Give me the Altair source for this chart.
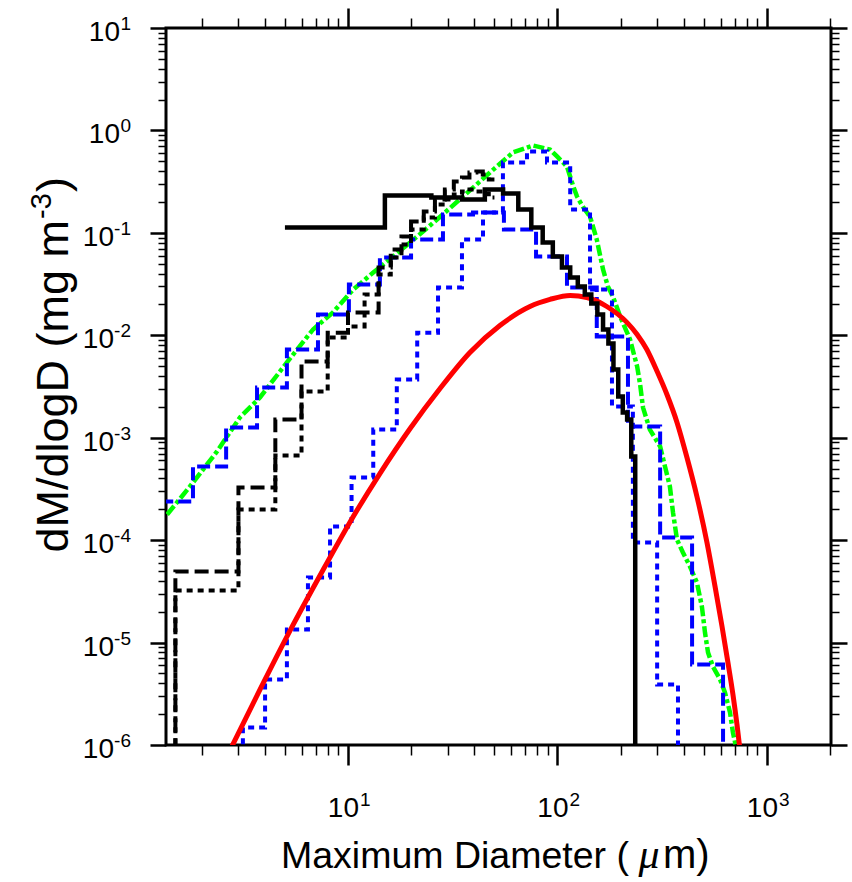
import altair as alt
import pandas as pd

# ---------------- data ----------------
# black solid: 10 um bins
solid_edges = [5, 15, 25, 35, 45, 55, 65, 75, 85, 95, 105, 115, 125, 135, 145, 155,
               165, 175, 185, 195, 205, 215, 225, 235]
solid_vals = [0.113, 0.232, 0.221, 0.212, 0.265, 0.242, 0.169, 0.113, 0.0805, 0.0588,
              0.0459, 0.0366, 0.0299, 0.0250, 0.0204, 0.0160, 0.0114, 0.0083, 0.00464,
              0.00252, 0.00176, 0.00151, 0.000656]

# black dashed / dotted: small-particle probe bins
small_edges = [1.5, 3, 4.5, 6, 8, 10, 12, 14, 16, 18, 20, 23, 26, 29, 32, 35, 38, 41, 44, 47, 50]
kdash_vals = [4.94e-5, 3.27e-4, 1.51e-3, 5.55e-3, 0.0106, 0.0167, 0.0167, 0.0459, 0.0688,
              0.0921, 0.129, 0.162, 0.212, 0.265, 0.317, 0.347, 0.388, 0.397, 0.371, 0.332]
kdot_vals = [3.22e-5, 1.99e-4, 6.71e-4, 2.83e-3, 9.51e-3, 0.0122, 0.0250, 0.0392, 0.0575,
             0.0770, 0.108, 0.141, 0.189, 0.212, 0.237, 0.253, 0.265, 0.253, 0.242, 0.221]

# blue dashed
bdash_edges = [1.27, 1.82, 2.62, 3.68, 5.11, 7.19, 10.1, 14.2, 20.0, 28.4, 39.5, 55.5,
               79.0, 111, 154, 217, 309, 439, 617]
bdash_vals = [2.38e-4, 5.24e-4, 1.26e-3, 3.09e-3, 7.27e-3, 0.0160, 0.0313, 0.0575, 0.0861,
              0.151, 0.158, 0.108, 0.0588, 0.0293, 9.73e-3, 1.29e-3, 1.06e-4, 6.11e-6]

# blue dotted
bdot_edges = [3.15, 4.02, 5.11, 6.44, 8.21, 10.4, 13.2, 17.1, 21.4, 26.9, 35.0, 44.1, 54.9,
              71.5, 89.1, 115, 143, 182, 229, 299, 376]
bdot_vals = [1.48e-6, 4.36e-6, 1.34e-5, 4.32e-5, 1.36e-4, 4.09e-4, 1.20e-3, 3.70e-3, 0.0106,
             0.0293, 0.0861, 0.158, 0.486, 0.623, 0.486, 0.169, 0.028, 2.02e-3, 9.49e-5, 3.90e-6]

# green (fine bins)
green_D = [1.37, 1.76, 2.37, 3.05, 3.80, 5.11, 6.81, 8.48, 10.6, 13.2, 16.4, 19.8, 26.6, 35.4,
           47.6, 61.3, 76.4, 92.1, 99.5, 111, 119, 124, 132, 143, 154, 165, 174, 184, 199,
           222, 240, 248, 256, 276, 309, 326, 344, 356, 372, 397, 429, 463, 489, 506, 523,
           552, 597, 630, 666, 688, 711]
green_v = [1.78e-4, 3.34e-4, 7.34e-4, 1.58e-3, 2.47e-3, 5.43e-3, 0.0114, 0.0167, 0.0280,
           0.0410, 0.0588, 0.0805, 0.135, 0.226, 0.388, 0.609, 0.713, 0.651, 0.557, 0.444,
           0.284, 0.226, 0.181, 0.144, 0.0861, 0.0439, 0.0300, 0.0239, 0.0153, 9.10e-3,
           4.96e-3, 3.31e-3, 1.97e-3, 1.20e-3, 8.21e-4, 5.24e-4, 3.34e-4, 1.86e-4, 1.01e-4,
           7.57e-5, 5.53e-5, 3.86e-5, 2.25e-5, 1.25e-5, 8.0e-6, 5.84e-6, 4.36e-6, 3.26e-6,
           2.08e-6, 1.32e-6, 9.67e-7]

# red (fitted distribution)
red_D = [2.79, 3.80, 5.29, 7.35, 10.2, 14.2, 19.8, 27.5, 38.2, 53.1, 73.9, 92.1, 115, 138,
         172, 215, 240, 267, 299, 333, 372, 415, 463, 517, 565, 610, 651, 688, 719, 743]
red_v = [9.67e-7, 3.48e-6, 1.31e-5, 4.52e-5, 1.49e-4, 4.47e-4, 1.23e-3, 3.02e-3, 6.79e-3,
         0.01246, 0.0191, 0.0224, 0.0245, 0.0234, 0.0191, 0.0133, 0.0102, 7.27e-3, 4.43e-3,
         2.64e-3, 1.41e-3, 6.41e-4, 2.67e-4, 9.49e-5, 3.53e-5, 1.44e-5, 6.39e-6, 3.11e-6,
         1.59e-6, 9.04e-7]

# axis tick labels
ylab_vals = [10, 1, 0.1, 0.01, 0.001, 0.0001, 1e-5, 1e-6]
ylab_exps = ["1", "0", "-1", "-2", "-3", "-4", "-5", "-6"]
xlab_vals = [10, 100, 1000]
xlab_exps = ["1", "2", "3"]
x_title_parts = ["Maximum Diameter (", "\u03bc", "m)"]
y_title_parts = ["dM/dlogD (mg m", "-3", ")"]

# ---------------- layout / style ----------------
W, H = 665, 717
FONT = "Liberation Sans"
FLOOR = 1e-9  # below the axis: used for vertical drops to the bottom

xscale = alt.Scale(type="log", domain=[1.353, 2021], nice=False)
yscale = alt.Scale(type="log", domain=[1e-6, 10], nice=False)

xticks = [k * 10 ** e for e in range(0, 4) for k in range(1, 10)]
xticks = [t for t in xticks if 1.353 <= t <= 2021]
yticks = [k * 10.0 ** e for e in range(-6, 1) for k in range(1, 10)] + [10]

MAJ = "abs(log(datum.value)/LN10 - round(log(datum.value)/LN10)) < 0.000001"


def mk_axis(orient, values, major, minor):
    return alt.Axis(
        orient=orient, values=values, labels=False, title=None, domain=False,
        grid=False, ticks=True, tickColor="black",
        tickSize={"condition": {"test": MAJ, "value": major}, "value": minor},
        tickWidth={"condition": {"test": MAJ, "value": 2.5}, "value": 1.5},
    )


def step_frame(edges, vals, drop_start, drop_end):
    xs = list(edges[:-1]) + [edges[-1]]
    ys = list(vals) + [vals[-1]]
    if drop_start:
        xs = [edges[0]] + xs
        ys = [FLOOR] + ys
    if drop_end:
        xs = xs + [edges[-1]]
        ys = ys + [FLOOR]
    return pd.DataFrame({"D": xs, "v": ys, "i": list(range(len(xs)))})


def line(df, color, width, dash=None, interp="step-after", xaxis=None, yaxis=None):
    kw = dict(color=color, strokeWidth=width, clip=True, interpolate=interp)
    if dash:
        kw["strokeDash"] = dash
    return alt.Chart(df).mark_line(**kw).encode(
        x=alt.X("D:Q", scale=xscale, axis=xaxis),
        y=alt.Y("v:Q", scale=yscale, axis=yaxis),
        order=alt.Order("i:Q"),
    )


green_df = pd.DataFrame({"D": green_D, "v": green_v, "i": list(range(len(green_D)))})
red_df = pd.DataFrame({"D": red_D, "v": red_v, "i": list(range(len(red_D)))})

g_layer = line(green_df, "#00FF00", 4.5, [11, 3, 4, 3], interp="linear",
               xaxis=mk_axis("bottom", xticks, 20, 10), yaxis=mk_axis("left", yticks, 16, 8))
bdash_layer = line(step_frame(bdash_edges, bdash_vals, False, True), "#0000FF", 4, [13, 5],
                   xaxis=mk_axis("top", xticks, 20, 10), yaxis=mk_axis("right", yticks, 16, 8))
bdot_layer = line(step_frame(bdot_edges, bdot_vals, True, True), "#0000FF", 4, [6, 5])
red_layer = line(red_df, "#FF0000", 5, interp="monotone")
kdot_layer = line(step_frame(small_edges, kdot_vals, True, False), "black", 4, [6, 5])
kdash_layer = line(step_frame(small_edges, kdash_vals, True, False), "black", 4, [14, 6])
solid_layer = line(step_frame(solid_edges, solid_vals, False, True), "black", 4.5)

# ---------------- tick labels (10 with superscript exponent) ----------------
ydf = pd.DataFrame({"v": ylab_vals, "e": ylab_exps})
ytens_pos = alt.Chart(ydf).transform_filter("indexof(datum.e, '-') < 0").mark_text(
    align="right", baseline="alphabetic", fontSize=28, font=FONT, dy=13, color="black"
).encode(x=alt.value(-46), y=alt.Y("v:Q", scale=yscale, axis=None), text=alt.value("10"))
ytens_neg = alt.Chart(ydf).transform_filter("indexof(datum.e, '-') >= 0").mark_text(
    align="right", baseline="alphabetic", fontSize=28, font=FONT, dy=13, color="black"
).encode(x=alt.value(-52), y=alt.Y("v:Q", scale=yscale, axis=None), text=alt.value("10"))
yexps = alt.Chart(ydf).mark_text(
    align="right", baseline="alphabetic", fontSize=19, font=FONT, dy=2, color="black"
).encode(x=alt.value(-35), y=alt.Y("v:Q", scale=yscale, axis=None), text="e:N")

xdf = pd.DataFrame({"v": xlab_vals, "e": xlab_exps})
xtens = alt.Chart(xdf).mark_text(
    align="right", baseline="alphabetic", fontSize=28, font=FONT, dx=11, color="black"
).encode(x=alt.X("v:Q", scale=xscale, axis=None), y=alt.value(H + 72), text=alt.value("10"))
xexps = alt.Chart(xdf).mark_text(
    align="left", baseline="alphabetic", fontSize=19, font=FONT, dx=12, color="black"
).encode(x=alt.X("v:Q", scale=xscale, axis=None), y=alt.value(H + 61), text="e:N")

# ---------------- axis titles ----------------
one = pd.DataFrame({"k": [0]})
xt1 = alt.Chart(one).mark_text(align="right", baseline="alphabetic", fontSize=37.5, font=FONT,
                               color="black", text=x_title_parts[0]).encode(
    x=alt.value(463), y=alt.value(840))
xt2 = alt.Chart(one).mark_text(align="center", baseline="alphabetic", fontSize=42,
                               font="Liberation Serif", fontStyle="italic", color="black",
                               text=x_title_parts[1]).encode(x=alt.value(483), y=alt.value(840))
xt3 = alt.Chart(one).mark_text(align="left", baseline="alphabetic", fontSize=40, font=FONT,
                               color="black", text=x_title_parts[2]).encode(
    x=alt.value(497), y=alt.value(840))

YT = 45
yt1 = alt.Chart(one).mark_text(align="right", baseline="alphabetic", fontSize=YT, font=FONT,
                               angle=270, color="black", text=y_title_parts[0]).encode(
    x=alt.value(-98), y=alt.value(192))
yt2 = alt.Chart(one).mark_text(align="left", baseline="alphabetic", fontSize=29, font=FONT,
                               angle=270, color="black", text=y_title_parts[1]).encode(
    x=alt.value(-115), y=alt.value(191))
yt3 = alt.Chart(one).mark_text(align="left", baseline="alphabetic", fontSize=YT, font=FONT,
                               angle=270, color="black", text=y_title_parts[2]).encode(
    x=alt.value(-98), y=alt.value(164))

chart = alt.layer(
    g_layer, bdash_layer, bdot_layer, red_layer, kdot_layer, kdash_layer, solid_layer,
    ytens_pos, ytens_neg, yexps, xtens, xexps, xt1, xt2, xt3, yt1, yt2, yt3,
).resolve_axis(x="independent", y="independent").properties(
    width=W, height=H,
    autosize=alt.AutoSizeParams(type="none"),
    padding={"left": 166, "top": 28, "right": 21, "bottom": 137},
    background="white",
).configure_view(stroke="black", strokeWidth=3)

chart.save("out.html", embed_options={"renderer": "svg", "actions": False})
